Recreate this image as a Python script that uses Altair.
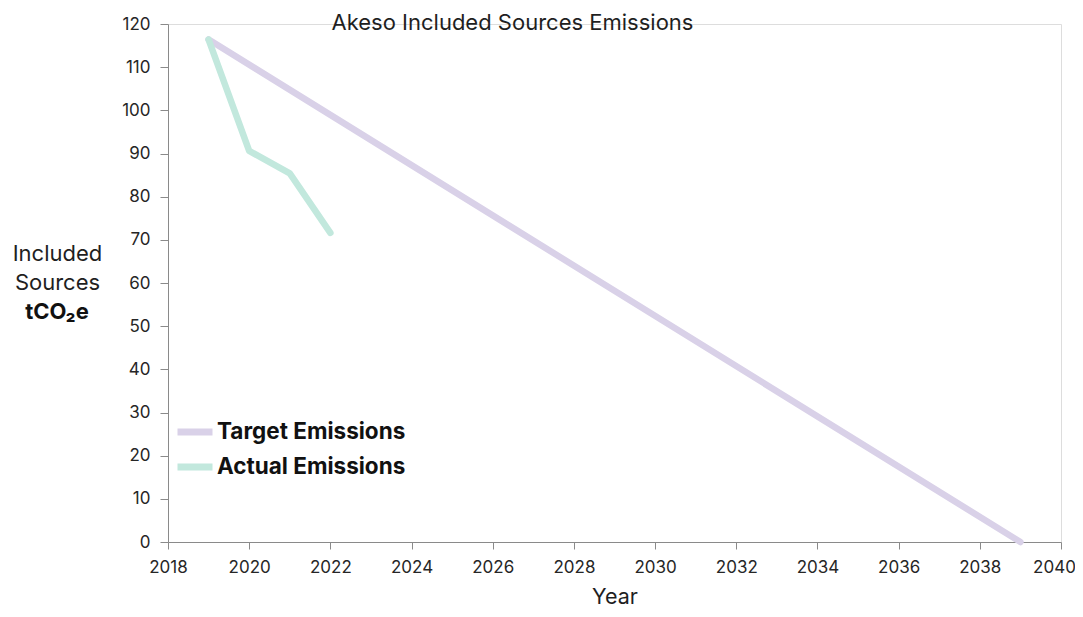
import altair as alt
import pandas as pd

# ---- data ----
target_years = [2019, 2039]
target_values = [116.4, 0.0]
actual_years = [2019, 2020, 2021, 2022]
actual_values = [116.4, 90.6, 85.4, 71.6]
series_names = ["Target Emissions", "Actual Emissions"]
series_colors = ["#D9D1E8", "#C2E8DD"]
x_ticks = list(range(2018, 2041, 2))
y_ticks = list(range(0, 121, 10))
chart_title = "Akeso Included Sources Emissions"
unit_text = "tCO\u2082e"

df = pd.concat([
    pd.DataFrame({"Year": target_years, "Value": target_values, "Series": series_names[0]}),
    pd.DataFrame({"Year": actual_years, "Value": actual_values, "Series": series_names[1]}),
], ignore_index=True)

FONT = "Inter"

lines = alt.Chart(df).mark_line(strokeWidth=6.5, strokeCap="round", strokeJoin="round").encode(
    x=alt.X("Year:Q",
            scale=alt.Scale(domain=[2018, 2040], nice=False, zero=False),
            axis=alt.Axis(values=x_ticks, format="d", grid=False, title="Year",
                          labelFontSize=17, labelColor="#262626", labelFont=FONT,
                          labelPadding=10, tickSize=7, tickColor="#8a8a8a",
                          labelFlush=False, labelOverlap=False,
                          labelOffset=alt.condition("datum.value == 2040", alt.value(-7), alt.value(0)),
                          domainColor="#8a8a8a", titleFontSize=21.5, titleFont=FONT,
                          titleFontWeight="normal", titleColor="#1f1f1f",
                          titleBaseline="alphabetic", titleY=61.5)),
    y=alt.Y("Value:Q",
            scale=alt.Scale(domain=[0, 120], nice=False),
            axis=alt.Axis(values=y_ticks, grid=False, title=["Included", "Sources"],
                          labelFontSize=17, labelColor="#262626", labelFont=FONT,
                          labelPadding=10, tickSize=8, tickColor="#8a8a8a",
                          labelFlush=False, labelOverlap=False,
                          domainColor="#8a8a8a", titleFontSize=22, titleFont=FONT,
                          titleFontWeight="normal", titleColor="#1f1f1f",
                          titleAngle=0, titleAlign="center", titleBaseline="alphabetic",
                          titleX=-111, titleY=236.7, titleLineHeight=29.3)),
    color=alt.Color("Series:N",
                    scale=alt.Scale(domain=series_names, range=series_colors),
                    legend=alt.Legend(title=None, orient="none", legendX=6, legendY=387,
                                      symbolType="stroke", symbolStrokeWidth=7,
                                      symbolSize=1225, labelFontSize=22.5,
                                      labelFontWeight="bold", labelFont=FONT,
                                      labelColor="#111111", labelOffset=1, labelLimit=500,
                                      rowPadding=0, padding=0)),
    order=alt.Order("Year:Q"),
)

unit_label = alt.Chart(pd.DataFrame({"t": [unit_text]})).mark_text(
    font=FONT, fontSize=22, fontWeight="bold", color="#111111",
    align="center", baseline="alphabetic"
).encode(x=alt.value(-111), y=alt.value(295.3), text="t:N")

title_label = alt.Chart(pd.DataFrame({"t": [chart_title]})).mark_text(
    font=FONT, fontSize=22, fontWeight="normal", color="#1f1f1f",
    align="left", baseline="alphabetic"
).encode(x=alt.value(163.5), y=alt.value(6), text="t:N")

chart = alt.layer(lines, unit_label, title_label).properties(
    width=893, height=518,
    autosize=alt.AutoSizeParams(type="none"),
    padding={"left": 160, "top": 16, "right": 14, "bottom": 66},
).configure_view(stroke=None).configure(background="white")

chart.save("out.html", embed_options={"renderer": "svg", "actions": False})
